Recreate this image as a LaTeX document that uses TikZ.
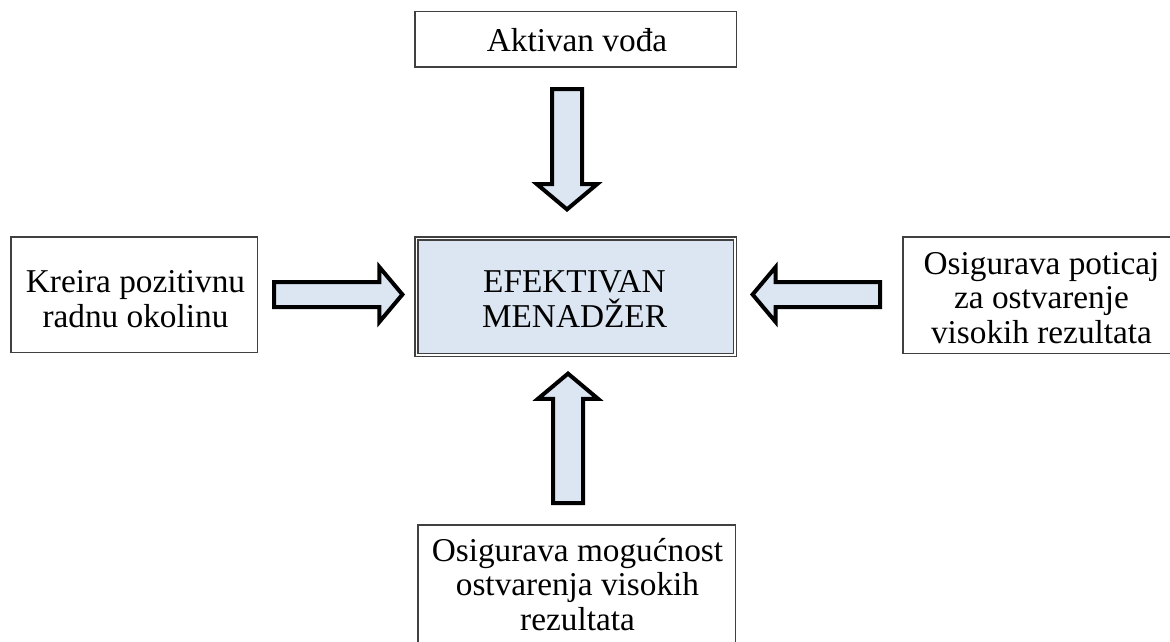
\documentclass[tikz,border=0pt]{standalone}
\usepackage{fontspec}
\setmainfont{Liberation Serif}
\usetikzlibrary{shapes.arrows}
\definecolor{lblue}{RGB}{220,230,242}
\definecolor{bordergray}{RGB}{64,64,64}
\begin{document}
\begin{tikzpicture}[x=1pt,y=-1pt,
  box/.style={draw=bordergray, line width=1.5pt, fill=white, inner sep=0pt},
  centerbox/.style={draw=bordergray, line width=1.5pt, double=white, double distance=1.5pt, fill=lblue, inner sep=0pt},
  txt/.style={font=\fontsize{33.3}{34.5}\selectfont, align=center, anchor=base, inner sep=0pt},
  barrow/.style={single arrow, draw=black, line width=4pt, fill=lblue, inner xsep=0pt, single arrow tip angle=100, anchor=tail},
  harrow/.style={barrow, inner ysep=10.5pt, minimum width=51pt, single arrow head extend=15pt},
  varrow/.style={barrow, inner ysep=13pt, minimum width=56pt, single arrow head extend=15pt}]
\useasboundingbox (0,0) rectangle (1170,642);
\clip (0,0) rectangle (1170,642);
\fill[white] (0,0) rectangle (1170,642);
% boxes
\node[box, minimum width=321.5pt, minimum height=55.5pt] (top) at (575.5,39.5) {};
\node[txt] (toptxt) at (577,52) {Aktivan vođa};
\node[box, minimum width=246.5pt, minimum height=115.5pt] (left) at (134,294.5) {};
\node[txt] (lefttxt) at (135.5,327) {Kreira pozitivnu\\radnu okolinu};
\node[centerbox, minimum width=318.5pt, minimum height=116.5pt] (center) at (575.5,296.5) {};
\node[txt] (centertxt) at (574.5,327) {EFEKTIVAN\\MENADŽER};
\node[box, minimum width=280pt, minimum height=116.5pt] (right) at (1042.75,295) {};
\node[txt] (righttxt) at (1041.5,343) {Osigurava poticaj\\za ostvarenje\\visokih rezultata};
\node[box, minimum width=317.5pt, minimum height=140pt] (bottom) at (576.5,594.75) {};
\node[txt] (bottomtxt) at (577.5,630) {Osigurava mogućnost\\ostvarenja visokih\\rezultata};
% block arrows
\node[harrow, minimum height=128.4pt] (aleft) at (272,294.5) {};
\node[harrow, minimum height=127.4pt, rotate=180] (aright) at (882,294.5) {};
\node[varrow, minimum height=120.4pt, rotate=-90] (atop) at (567,87) {};
\node[varrow, minimum height=129.4pt, rotate=90] (abottom) at (568,505) {};
\end{tikzpicture}
\end{document}
